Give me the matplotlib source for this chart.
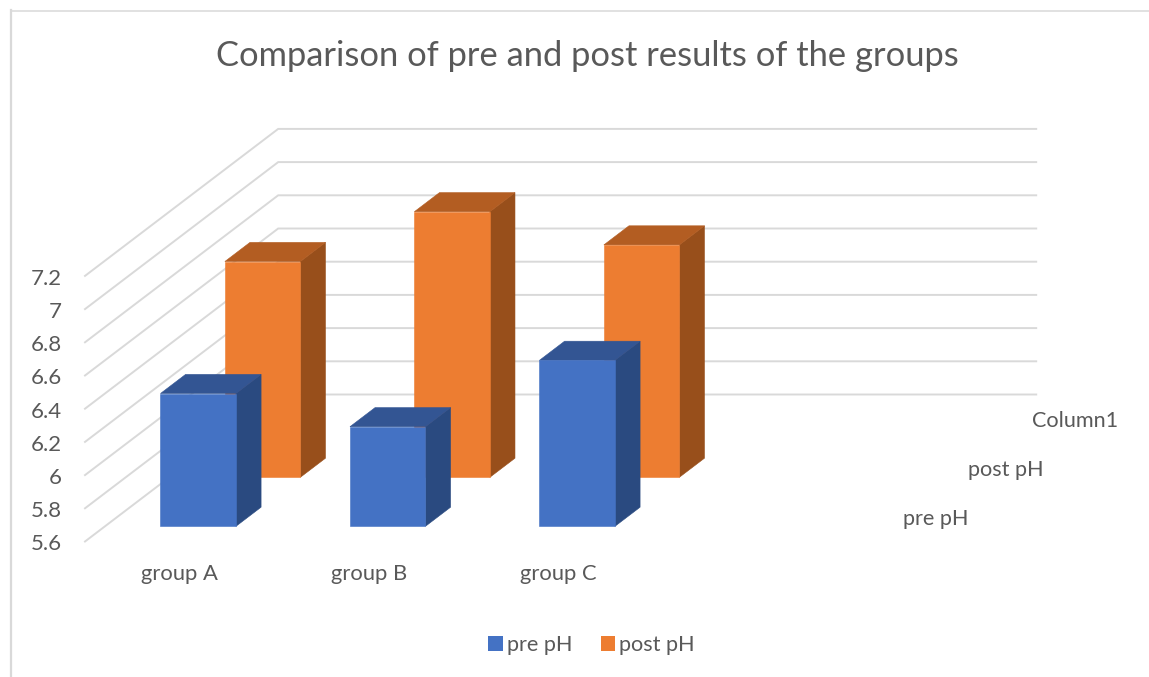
import matplotlib
matplotlib.use("Agg")
import matplotlib.pyplot as plt
from matplotlib.patches import Patch, Polygon

plt.rcParams['font.family'] = ['Lato', 'DejaVu Sans']

# data
groups = ["group A", "group B", "group C"]
pre_ph = [6.4, 6.2, 6.6]
post_ph = [6.9, 7.2, 7.0]
depth_labels = ["pre pH", "post pH", "Column1"]
y_ticks = [5.6, 5.8, 6.0, 6.2, 6.4, 6.6, 6.8, 7.0, 7.2]
y_tick_labels = ["5.6", "5.8", "6", "6.2", "6.4", "6.6", "6.8", "7", "7.2"]

text_col = "#595959"
grid_col = "#D9D9D9"
pre_cols = ("#4472C4", "#335593", "#2A4A80")   # front, top, side
post_cols = ("#ED7D31", "#B35D22", "#984F1B")

# geometry of the fake 3D box, in pixels
X0, Y0 = 85, 541.5        # front left corner of the floor
CAT_W = 189.5             # width of one category
N_CATS = 4                # Excel keeps an empty fourth category
PX_PER_UNIT = 166.0       # pixels per pH unit
DX, DY = 64.4, -49.0      # shift of one series row going back
BAR_W = 75.5
BAR_SHIFT = -1.5          # bars sit a little left of the category centre
BAR_FRONT = 0.31          # where a bar starts inside its row
BAR_DEPTH = 0.39          # bar depth as part of a row


def project(x, value, depth):
    # x in categories, depth in series rows
    return (X0 + x * CAT_W + depth * DX,
            Y0 - (value - y_ticks[0]) * PX_PER_UNIT + depth * DY)


def bar3d(ax, cat, row, value, cols):
    half = BAR_W / 2 / CAT_W
    mid = cat + 0.5 + BAR_SHIFT / CAT_W
    d0 = row + BAR_FRONT
    d1 = d0 + BAR_DEPTH
    l, r = mid - half, mid + half
    base = y_ticks[0]
    front = [project(l, base, d0), project(r, base, d0), project(r, value, d0), project(l, value, d0)]
    top = [project(l, value, d0), project(r, value, d0), project(r, value, d1), project(l, value, d1)]
    side = [project(r, base, d0), project(r, base, d1), project(r, value, d1), project(r, value, d0)]
    for pts, c in zip((side, top, front), (cols[2], cols[1], cols[0])):
        ax.add_patch(Polygon(pts, closed=True, facecolor=c, edgecolor=c, linewidth=0.4, zorder=3 + row * -0.1))


fig = plt.figure(figsize=(11.49, 6.77), dpi=100)
ax = fig.add_axes([0, 0, 1, 1])
ax.set_xlim(0, 1149)
ax.set_ylim(677, 0)
ax.axis("off")

# chart frame, only the top and left edges are inside the crop
ax.plot([1149, 10.5], [10.5, 10.5], color=grid_col, lw=1.1, zorder=1)
ax.plot([11, 11], [10, 677], color=grid_col, lw=1.6, zorder=1)

# gridlines on side wall and back wall
for v, lab in zip(y_ticks, y_tick_labels):
    p0 = project(0, v, 0)
    p1 = project(0, v, 3)
    p2 = project(N_CATS, v, 3)
    ax.plot([p0[0], p1[0], p2[0]], [p0[1], p1[1], p2[1]], color=grid_col, lw=1.4,
            solid_joinstyle="miter", zorder=1)
    ax.text(p0[0] - 23, p0[1] + 3, lab, ha="right", va="center", fontsize=16, color=text_col)

# back row first so the front row covers it
for i, v in enumerate(post_ph):
    bar3d(ax, i, 1, v, post_cols)
for i, v in enumerate(pre_ph):
    bar3d(ax, i, 0, v, pre_cols)

for i, g in enumerate(groups):
    ax.text(project(i + 0.5, y_ticks[0], 0)[0], 574, g, ha="center", va="center",
            fontsize=15.8, color=text_col)

for i, lab in enumerate(depth_labels):
    x, y = project(N_CATS, y_ticks[0], i + 0.5)
    ax.text(x + 28, y + 2, lab, ha="left", va="center", fontsize=15.6, color=text_col)

ax.text(587, 56, "Comparison of pre and post results of the groups", ha="center", va="center",
        fontsize=24.8, color=text_col)

handles = [Patch(facecolor=pre_cols[0], label="pre pH"), Patch(facecolor=post_cols[0], label="post pH")]
ax.legend(handles=handles, loc="center", bbox_to_anchor=(591.5 / 1149, 1 - 645 / 677), ncol=2, frameon=False,
          fontsize=15.6, labelcolor=text_col, handlelength=0.65, handleheight=0.65,
          handletextpad=0.2, columnspacing=1.3)

fig.savefig("out.png", dpi=100)
